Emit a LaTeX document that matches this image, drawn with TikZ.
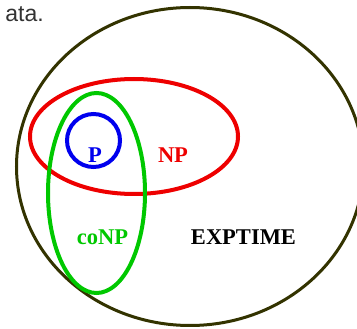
\documentclass[tikz,border=0pt]{standalone}
\usepackage{fontspec}
\setmainfont{Liberation Serif}
\newfontfamily\slidesans{Liberation Sans}
\usetikzlibrary{shapes.geometric}
\definecolor{expcol}{HTML}{333300}
\definecolor{npcol}{HTML}{EE0000}
\definecolor{conpcol}{HTML}{00C800}
\definecolor{pcol}{HTML}{0000EE}
\tikzset{
  cls/.style={ellipse, draw, line width=#1, inner sep=0pt, outer sep=0pt},  % complexity class
  cls/.default=4pt,
  lbl/.style={anchor=base, inner sep=0pt, font=\fontsize{22.5}{27}\selectfont\bfseries},
}

\begin{document}
\begin{tikzpicture}[x=1pt, y=-1pt]
  \clip (0,0) rectangle (357,329);
  % ---------------- classes ----------------
  \node[cls=3pt, draw=expcol, minimum width=347pt, minimum height=318pt] (exp)  at (190,166.5) {};
  \node[cls, draw=npcol,   minimum width=208pt, minimum height=115pt] (np)   at (134,136.5) {};
  \node[cls, draw=conpcol, minimum width=97pt,  minimum height=200pt] (conp) at (96.5,193) {};
  \node[cls, draw=pcol, circle, minimum size=53pt]                    (p)    at (93.5,140.5) {};
  % ---------------- labels ----------------
  \node[lbl, text=pcol]    (plbl)    at (95,163)    {P};
  \node[lbl, text=npcol]   (nplbl)   at (173,163)   {NP};
  \node[lbl, text=conpcol] (conplbl) at (102.5,245) {coNP};
  \node[lbl, text=black]   (explbl)  at (243.5,245) {EXPTIME};
  % cut-off slide text
  \node[anchor=base east, inner sep=0pt, text=black!80,
        font=\slidesans\fontsize{23}{27}\selectfont] (rest) at (44,22) {ata.};
\end{tikzpicture}
\end{document}
